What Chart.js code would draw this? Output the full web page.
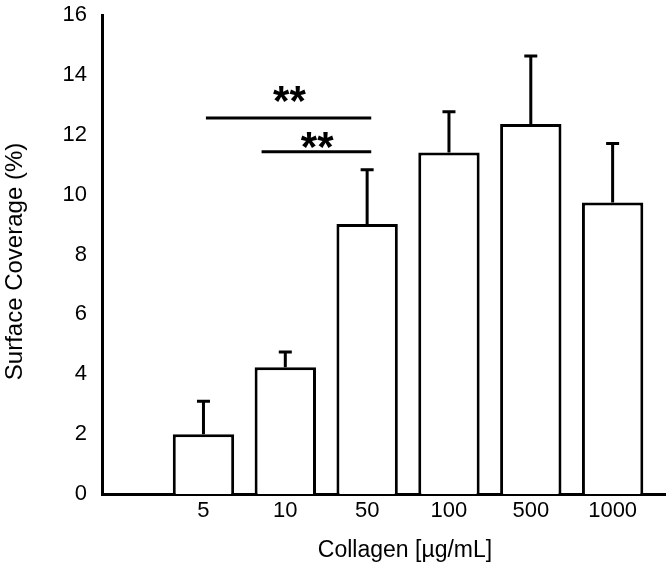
<!DOCTYPE html>
<html>
<head>
<meta charset="utf-8">
<script src="https://cdn.jsdelivr.net/npm/chart.js@4/dist/chart.umd.min.js"></script>
<style>
  html, body { margin: 0; padding: 0; background: #fff; }
  #wrap { width: 672px; height: 571px; }
</style>
</head>
<body>
<div id="wrap"><canvas id="chart" width="672" height="571"></canvas></div>
<script>
// Collagen concentrations and measured surface coverage (%)
const concLabels = ['5', '10', '50', '100', '500', '1000'];
const coverage = [2.0, 4.23, 9.02, 11.41, 12.36, 9.74];
const coverageErr = [1.1, 0.51, 1.81, 1.36, 2.27, 1.97];
const yTicks = [0, 2, 4, 6, 8, 10, 12, 14, 16];

const xTitle = 'Collagen [µg/mL]';
const yTitle = 'Surface Coverage (%)';

// significance brackets (x in category positions, 1 = first bar)
const sigStart = [1.03, 1.71];
const sigEnd = [3.05, 3.05];
const sigLevel = [12.56, 11.43];
const sigText = ['**', '**'];
const sigTextX = [2.05, 2.39];
const sigTextY = [13.3, 11.77];

const FONT = "'Liberation Sans', Arial, sans-serif";

// upward error bars on top of each bar
const errorBars = {
  id: 'errorBars',
  afterDatasetsDraw(chart) {
    const ctx = chart.ctx;
    const y = chart.scales.y;
    const meta = chart.getDatasetMeta(0);
    ctx.save();
    ctx.strokeStyle = '#000';
    ctx.lineWidth = 3;
    meta.data.forEach((bar, i) => {
      const top = y.getPixelForValue(coverage[i] + coverageErr[i]);
      ctx.beginPath();
      ctx.moveTo(bar.x, bar.y);
      ctx.lineTo(bar.x, top);
      ctx.moveTo(bar.x - 6.5, top);
      ctx.lineTo(bar.x + 6.5, top);
      ctx.stroke();
    });
    ctx.restore();
  }
};

const sigMarks = {
  id: 'sigMarks',
  afterDatasetsDraw(chart) {
    const ctx = chart.ctx;
    const x = chart.scales.x;
    const y = chart.scales.y;
    ctx.save();
    ctx.strokeStyle = '#000';
    ctx.lineWidth = 3;
    sigLevel.forEach((lvl, i) => {
      const py = y.getPixelForValue(lvl);
      ctx.beginPath();
      ctx.moveTo(x.getPixelForValue(sigStart[i]), py);
      ctx.lineTo(x.getPixelForValue(sigEnd[i]), py);
      ctx.stroke();
    });
    ctx.fillStyle = '#000';
    ctx.font = 'bold 42px ' + FONT;
    ctx.textAlign = 'center';
    ctx.textBaseline = 'alphabetic';
    sigText.forEach((t, i) => {
      // asterisks sit high in the em box, shift baseline down so glyph centre lands on the value
      ctx.fillText(t, x.getPixelForValue(sigTextX[i]), y.getPixelForValue(sigTextY[i]) + 19);
    });
    ctx.restore();
  }
};

// axis titles drawn by hand: the original sits them off-centre from the plot area
const axisTitles = {
  id: 'axisTitles',
  afterDraw(chart) {
    const ctx = chart.ctx;
    const area = chart.chartArea;
    ctx.save();
    ctx.fillStyle = '#000';
    ctx.textAlign = 'center';
    ctx.font = '23px ' + FONT;
    ctx.textBaseline = 'alphabetic';
    ctx.fillText(xTitle, area.left + 303, area.bottom + 63);
    ctx.font = '24px ' + FONT;
    ctx.textBaseline = 'middle';
    ctx.translate(15, (area.top + area.bottom) / 2 + 7);
    ctx.rotate(-Math.PI / 2);
    ctx.fillText(yTitle, 0, 0);
    ctx.restore();
  }
};

new Chart(document.getElementById('chart'), {
  type: 'bar',
  data: {
    datasets: [{
      data: coverage.map((v, i) => ({ x: i + 1, y: v })),
      backgroundColor: '#fff',
      borderColor: '#000',
      borderWidth: 3,
      borderSkipped: 'bottom',
      barPercentage: 0.75,
      categoryPercentage: 1
    }]
  },
  options: {
    responsive: false,
    animation: false,
    devicePixelRatio: 1,
    layout: { padding: { top: 15, right: 7, left: 0, bottom: 0 } },
    plugins: {
      legend: { display: false },
      tooltip: { enabled: false }
    },
    scales: {
      x: {
        type: 'linear',
        offset: false,
        min: -0.24,
        max: 6.64,
        grid: { display: false, drawTicks: false },
        border: { color: '#000', width: 3 },
        afterBuildTicks(scale) {
          scale.ticks = concLabels.map((_, i) => ({ value: i + 1 }));
        },
        afterFit(scale) {
          scale.height = 77;
          scale.paddingLeft = 0;
          scale.paddingRight = 0;
        },
        ticks: {
          autoSkip: false,
          maxRotation: 0,
          padding: 4,
          color: '#000',
          font: { family: FONT, size: 22 },
          callback: (v) => concLabels[v - 1]
        },
        title: { display: false }
      },
      y: {
        min: 0,
        max: 16,
        grid: { display: false, drawTicks: false },
        border: { color: '#000', width: 3 },
        afterBuildTicks(scale) {
          scale.ticks = yTicks.map(v => ({ value: v }));
        },
        afterFit(scale) {
          scale.width = 102;
          scale.paddingTop = 0;
          scale.paddingBottom = 0;
        },
        ticks: {
          padding: 15,
          color: '#000',
          font: { family: FONT, size: 22 }
        },
        title: { display: false }
      }
    }
  },
  plugins: [errorBars, sigMarks, axisTitles]
});
</script>
</body>
</html>
